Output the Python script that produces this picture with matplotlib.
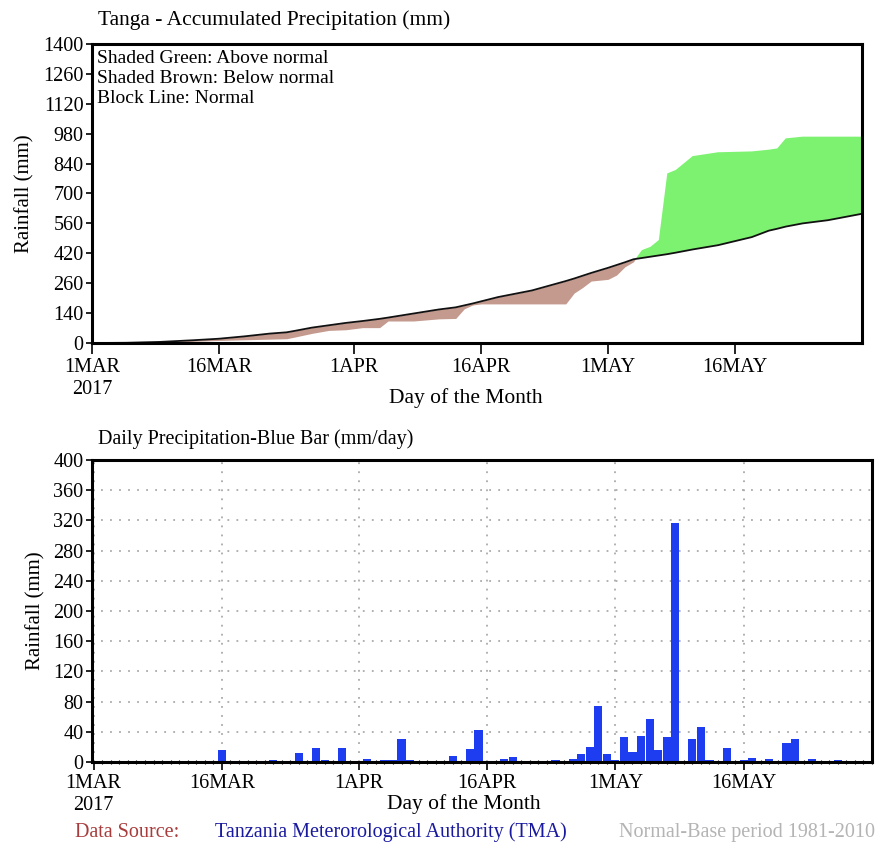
import matplotlib.pyplot as plt
import numpy as np
from matplotlib.ticker import MultipleLocator

plt.rcParams['font.family'] = ['Liberation Serif', 'DejaVu Serif']

# day index counted from 1 March 2017
tick_days = [0, 15, 31, 46, 61, 76]
tick_labels = ['1MAR\n2017', '16MAR', '1APR', '16APR', '1MAY', '16MAY']

# accumulated precipitation (mm)
acc_days = [0, 4, 8, 12, 15, 18, 21, 23, 24, 26, 28, 30, 32, 34, 35, 38, 41, 43,
            44, 45, 46, 48, 52, 56, 57, 58, 59, 61, 62, 63, 64, 65, 66, 67, 68,
            69, 71, 74, 78, 80, 81, 82, 84, 87, 91]
normal_acc = [0, 1, 5, 13, 20, 31, 44, 50, 57, 72, 83, 94, 103, 113, 119, 138, 157, 167,
              176, 185, 195, 215, 246, 290, 302, 315, 328, 352, 365, 378, 392, 398, 404, 410, 416,
              423, 438, 458, 496, 526, 535, 545, 560, 575, 605]
observed_acc = [0, 1, 4, 8, 12, 15, 18, 20, 28, 45, 59, 62, 72, 72, 103, 103, 113, 115,
                160, 178, 183, 183, 183, 183, 234, 260, 290, 298, 318, 357, 380, 435, 450, 482, 794,
                810, 875, 893, 897, 905, 911, 958, 966, 966, 966]

# daily precipitation (mm/day)
bar_days = [15, 21, 24, 26, 27, 29, 32, 34, 35, 36, 37, 42, 44, 45, 48, 49, 54, 56, 57, 58,
            59, 60, 61, 62, 63, 64, 65, 66, 67, 68, 70, 71, 72, 74, 76, 77, 79, 81, 82, 84, 87]
bar_vals = [16, 3, 12, 19, 3, 19, 4, 3, 3, 30, 3, 8, 17, 42, 4, 6, 3, 4, 10, 20,
            74, 10, 3, 33, 13, 35, 57, 16, 33, 316, 30, 46, 3, 19, 3, 5, 4, 25, 30, 4, 3]

acc_ticks = [0, 140, 280, 420, 560, 700, 840, 980, 1120, 1260, 1400]
acc_tick_labels = ['0', '140', '260', '420', '560', '700', '840', '980', '1120', '1260', '1400']

fig = plt.figure(figsize=(8.84, 8.44), dpi=100)

# ---- upper panel: accumulated ----
ax1 = fig.add_axes([0.104, 0.5936, 0.871, 0.3543])
x = np.array(acc_days)
obs = np.array(observed_acc)
nor = np.array(normal_acc)
ax1.fill_between(x, obs, nor, where=obs >= nor, interpolate=True,
                 color='#7CF270', linewidth=0)
ax1.fill_between(x, obs, nor, where=obs < nor, interpolate=True,
                 color='#C49A8E', linewidth=0)
ax1.plot(x, nor, color='#111111', linewidth=1.3)
ax1.set_xlim(0, 91)
ax1.set_ylim(0, 1400)
ax1.set_yticks(acc_ticks)
ax1.set_yticklabels(acc_tick_labels)
ax1.set_xticks(tick_days)
ax1.set_xticklabels(tick_labels)
for s in ax1.spines.values():
    s.set_linewidth(2.2)
ax1.tick_params(axis='y', length=4, width=1.2, labelsize=14.5, pad=2)
ax1.tick_params(axis='x', length=8, width=1.2, labelsize=14.5, pad=3)
ax1.set_ylabel('Rainfall (mm)', fontsize=15, labelpad=6)
ax1.set_xlabel('Day of the Month', fontsize=15.5)
ax1.xaxis.set_label_coords(0.485, -0.184)
ax1.xaxis.label.set_verticalalignment('center')
ax1.text(0.008, 1.08, 'Tanga - Accumulated Precipitation (mm)', transform=ax1.transAxes,
         fontsize=15.5, ha='left', va='center')
ax1.text(0.006, 0.98, 'Shaded Green: Above normal\nShaded Brown: Below normal\nBlock Line: Normal',
         transform=ax1.transAxes, fontsize=14, ha='left', va='top', linespacing=1.25)

# ---- lower panel: daily ----
ax2 = fig.add_axes([0.104, 0.0972, 0.8824, 0.3578])
ax2.bar(bar_days, bar_vals, width=0.95, color='#1E3CF0', linewidth=0, zorder=3)
ax2.set_xlim(-0.2, 91)
ax2.set_ylim(0, 400)
ax2.set_yticks(np.arange(0, 401, 40))
ax2.set_xticks(tick_days)
ax2.set_xticklabels(tick_labels)
ax2.xaxis.set_minor_locator(MultipleLocator(1))
ax2.grid(True, color='#AAAAAA', linestyle=(0, (1, 4)), linewidth=1.3, zorder=0)
for s in ax2.spines.values():
    s.set_linewidth(2.2)
    s.set_zorder(4)
ax2.tick_params(axis='y', length=4, width=1.2, labelsize=14.5, pad=2)
ax2.tick_params(axis='x', which='major', length=6, width=1.2, labelsize=14.5, pad=3)
ax2.tick_params(axis='x', which='minor', length=3, width=0.8, direction='inout')
ax2.set_ylabel('Rainfall (mm)', fontsize=15, labelpad=6)
ax2.set_xlabel('Day of the Month', fontsize=15.5)
ax2.xaxis.set_label_coords(0.477, -0.139)
ax2.xaxis.label.set_verticalalignment('center')
ax2.text(0.008, 1.07, 'Daily Precipitation-Blue Bar (mm/day)', transform=ax2.transAxes,
         fontsize=14.5, ha='left', va='center')

# ---- footer ----
fig.text(0.085, 0.014, 'Data Source:', color='#A83C3C', fontsize=14.5, ha='left', va='center')
fig.text(0.243, 0.014, 'Tanzania Meterorological Authority (TMA)', color='#1A1AA0',
         fontsize=14.5, ha='left', va='center')
fig.text(0.99, 0.014, 'Normal-Base period 1981-2010', color='#B4B4B4',
         fontsize=14.5, ha='right', va='center')

fig.savefig('out.png', dpi=100)
